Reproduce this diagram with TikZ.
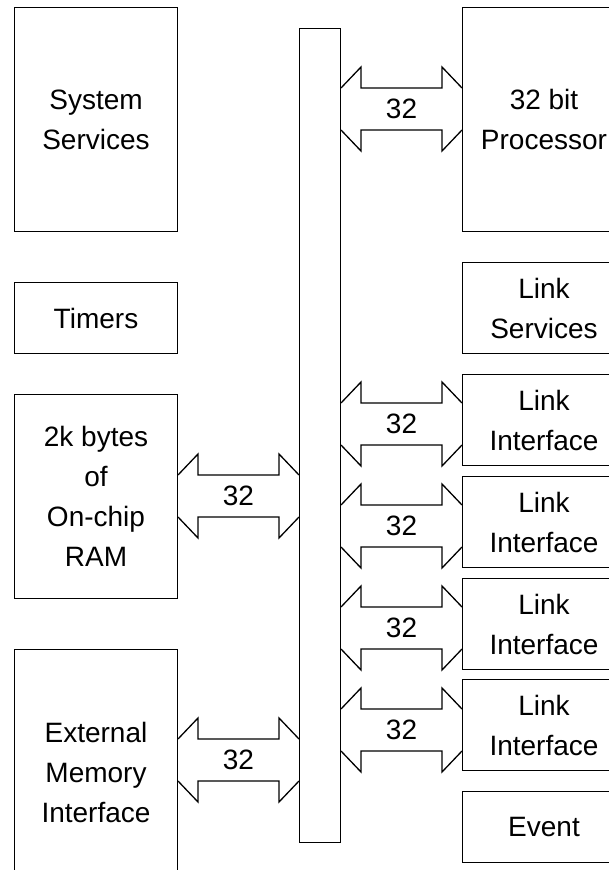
\documentclass[tikz,border=0pt]{standalone}
\usepackage{fontspec}
\setmainfont{Liberation Sans}
\usetikzlibrary{calc}

\newcommand\blockfont{\fontsize{28}{40}\selectfont}

\tikzset{
  unit/.style={draw, line width=1pt, rectangle, inner sep=0pt,
    minimum width=163pt, anchor=north west, align=center, font=\blockfont},
  busbar/.style={draw, line width=1pt, rectangle, inner sep=0pt,
    minimum width=41pt, anchor=north west},
  busline/.style={line width=1.3pt, line join=miter},
  widthlabel/.style={inner sep=0pt, font=\blockfont},
}

% Open double-headed bus arrow between two points at the same height,
% labelled with the bus width.
\newcommand\duplexlink[3]{%
  \coordinate (#1-l) at #2;
  \coordinate (#1-r) at #3;
  \draw[busline] ($(#1-l)+(0,-21)$) -- ($(#1-l)+(20,-42)$) -- ($(#1-l)+(20,-21)$)
    -- ($(#1-r)+(-20,-21)$) -- ($(#1-r)+(-20,-42)$) -- ($(#1-r)+(0,-21)$);
  \draw[busline] ($(#1-l)+(0,21)$) -- ($(#1-l)+(20,42)$) -- ($(#1-l)+(20,21)$)
    -- ($(#1-r)+(-20,21)$) -- ($(#1-r)+(-20,42)$) -- ($(#1-r)+(0,21)$);
  \node[widthlabel] (#1-w) at ($(#1-l)!0.5!(#1-r)$) {32};
}

\begin{document}
\begin{tikzpicture}[x=1pt, y=-1pt]
  \useasboundingbox (0,0) rectangle (609,870);
  \clip (0,0) rectangle (609,870);

  % left column
  \node[unit, minimum height=224pt] (sys) at (14,7)   {System\\Services};
  \node[unit, minimum height=71pt]  (tim) at (14,282) {Timers};
  \node[unit, minimum height=204pt] (ram) at (14,394) {2k bytes\\of\\On-chip\\RAM};
  \node[unit, minimum height=246pt] (emi) at (14,649) {External\\Memory\\Interface};

  % internal bus
  \node[busbar, minimum height=814pt] (bus) at (299,28) {};

  % right column
  \node[unit, minimum height=224pt] (cpu) at (462,7)   {32 bit\\Processor};
  \node[unit, minimum height=91pt]  (lsv) at (462,262) {Link\\Services};
  \node[unit, minimum height=91pt]  (li1) at (462,374) {Link\\Interface};
  \node[unit, minimum height=91pt]  (li2) at (462,476) {Link\\Interface};
  \node[unit, minimum height=91pt]  (li3) at (462,578) {Link\\Interface};
  \node[unit, minimum height=91pt]  (li4) at (462,679) {Link\\Interface};
  \node[unit, minimum height=71pt]  (evt) at (462,791) {Event};

  % 32-bit paths to the bus
  \duplexlink{pc}{(bus.east |- 0,109)}{(cpu.west |- 0,109)}
  \duplexlink{rm}{(ram.east |- 0,496)}{(bus.west |- 0,496)}
  \duplexlink{em}{(emi.east |- 0,760)}{(bus.west |- 0,760)}
  \duplexlink{la}{(bus.east |- 0,424)}{(li1.west |- 0,424)}
  \duplexlink{lb}{(bus.east |- 0,526)}{(li2.west |- 0,526)}
  \duplexlink{lc}{(bus.east |- 0,628)}{(li3.west |- 0,628)}
  \duplexlink{ld}{(bus.east |- 0,730)}{(li4.west |- 0,730)}
\end{tikzpicture}
\end{document}
